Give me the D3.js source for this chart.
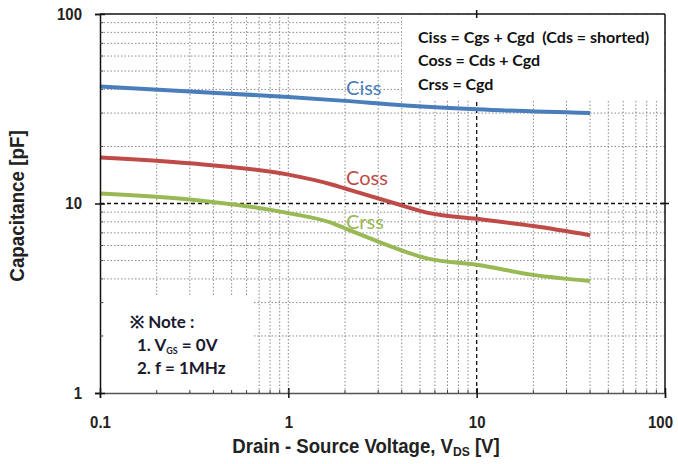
<!DOCTYPE html>
<html>
<head>
<meta charset="utf-8">
<script src="https://cdn.jsdelivr.net/npm/d3@7"></script>
<style>
  body { margin: 0; background: #fff; }
  svg { display: block; }
</style>
</head>
<body>
<div id="chart"></div>
<script>
// data
var cissV  = [0.1, 0.3, 1, 2, 4, 10, 40];
var cissPF = [41.5, 39, 36.5, 34.8, 33, 31.4, 30];

var cossV  = [0.1, 0.3, 1, 1.7, 2, 3.7, 5.6, 10, 20, 40];
var cossPF = [17.5, 16.3, 14.2, 12.6, 12, 10, 8.9, 8.3, 7.6, 6.8];

var crssV  = [0.1, 0.3, 1, 1.7, 2, 3, 5.6, 10, 20, 40];
var crssPF = [11.3, 10.5, 8.9, 7.9, 7.4, 6.3, 5.1, 4.75, 4.2, 3.9];

var xTicks = [0.1, 1, 10, 100];
var yTicks = [1, 10, 100];
var xMinor = [0.2, 0.3, 0.4, 0.5, 0.6, 0.7, 0.8, 0.9, 1, 2, 3, 4, 5, 6, 7, 8, 9, 20, 30, 40, 50, 60, 70, 80, 90];
var yMinor = [2, 3, 4, 5, 6, 7, 8, 9, 20, 30, 40, 50, 60, 70, 80, 90];

var seriesNames = ["Ciss", "Coss", "Crss"];
var seriesColors = ["#4a7ebb", "#be4b48", "#98b954"];

var W = 678, H = 464;
var margin = { top: 14, right: 13, bottom: 71, left: 100 };

var x = d3.scaleLog().domain([0.1, 100]).range([margin.left, W - margin.right]);
var y = d3.scaleLog().domain([1, 100]).range([H - margin.bottom, margin.top]);

var axisFont = "'Liberation Sans', Arial, sans-serif";
var boxFont = "Lato, 'Open Sans', sans-serif";
var squeeze = 0.88; // axis text in the original is a narrow face

var svg = d3.select("#chart").append("svg")
    .attr("width", W)
    .attr("height", H);

// minor grid
svg.append("g").selectAll("line")
    .data(xMinor)
    .enter().append("line")
    .attr("x1", d => x(d)).attr("x2", d => x(d))
    .attr("y1", y(1)).attr("y2", y(100))
    .attr("stroke", "#8a8a8a")
    .attr("stroke-width", 1)
    .attr("stroke-dasharray", "1.5,2");

svg.append("g").selectAll("line")
    .data(yMinor)
    .enter().append("line")
    .attr("x1", x(0.1)).attr("x2", x(100))
    .attr("y1", d => y(d)).attr("y2", d => y(d))
    .attr("stroke", "#8a8a8a")
    .attr("stroke-width", 1)
    .attr("stroke-dasharray", "1.5,2");

// major dashed lines at 10
svg.append("line")
    .attr("x1", x(10)).attr("x2", x(10))
    .attr("y1", y(1)).attr("y2", y(100))
    .attr("stroke", "#111").attr("stroke-width", 1.3)
    .attr("stroke-dasharray", "4,3");
svg.append("line")
    .attr("x1", x(0.1)).attr("x2", x(100))
    .attr("y1", y(10)).attr("y2", y(10))
    .attr("stroke", "#111").attr("stroke-width", 1.3)
    .attr("stroke-dasharray", "4,3");

// white boxes for the legend and the note
svg.append("rect")
    .attr("x", 402).attr("y", y(100) + 1)
    .attr("width", x(100) - 403).attr("height", 86)
    .attr("fill", "#fff");
svg.append("rect")
    .attr("x", x(0.1) + 4).attr("y", 296)
    .attr("width", 150).attr("height", y(1) - 297)
    .attr("fill", "#fff");

// curves
var line = d3.line()
    .x(d => x(d[0]))
    .y(d => y(d[1]))
    .curve(d3.curveMonotoneX);

var series = [
    d3.zip(cissV, cissPF),
    d3.zip(cossV, cossPF),
    d3.zip(crssV, crssPF)
];

svg.append("g").selectAll("path")
    .data(series)
    .enter().append("path")
    .attr("d", line)
    .attr("fill", "none")
    .attr("stroke", (d, i) => seriesColors[i])
    .attr("stroke-width", 4)
    .attr("stroke-linecap", "butt");

// curve labels
var labelPos = [[2, 88], [2, 178], [2, 222]];
svg.append("g").selectAll("text")
    .data(seriesNames)
    .enter().append("text")
    .attr("x", (d, i) => x(labelPos[i][0]) + 1)
    .attr("y", (d, i) => labelPos[i][1] + 7)
    .attr("fill", (d, i) => seriesColors[i])
    .style("font-family", boxFont)
    .style("font-size", "20px")
    .text(d => d);

// frame
svg.append("line")
    .attr("x1", x(0.1)).attr("x2", x(100))
    .attr("y1", y(100)).attr("y2", y(100))
    .attr("stroke", "#111").attr("stroke-width", 1.5);
svg.append("line")
    .attr("x1", x(100)).attr("x2", x(100))
    .attr("y1", y(100)).attr("y2", y(1))
    .attr("stroke", "#111").attr("stroke-width", 1.5);

// axes
var xAxis = svg.append("g")
    .attr("transform", "translate(0," + y(1) + ")")
    .call(d3.axisBottom(x).tickValues(xTicks).tickSize(5).tickFormat(d3.format("")));
xAxis.select(".domain").attr("stroke", "#555").attr("stroke-width", 1.5);
xAxis.selectAll(".tick line").attr("stroke", "#111").attr("stroke-width", 1.5).attr("y1", -5);
xAxis.selectAll(".tick text")
    .attr("dy", "0")
    .attr("y", 35)
    .attr("x", d => (d === 100 ? -5 : 0) / squeeze)
    .attr("transform", "scale(" + squeeze + ",1)")
    .attr("fill", "#222")
    .style("font-family", axisFont)
    .style("font-weight", "bold")
    .style("font-size", "17px");

// minor ticks on x axis
xAxis.append("g").selectAll("line")
    .data(xMinor)
    .enter().append("line")
    .attr("x1", d => x(d)).attr("x2", d => x(d))
    .attr("y1", 0).attr("y2", -3)
    .attr("stroke", "#444");

var yAxis = svg.append("g")
    .attr("transform", "translate(" + x(0.1) + ",0)")
    .call(d3.axisLeft(y).tickValues(yTicks).tickSize(5).tickFormat(d3.format("")));
yAxis.select(".domain").attr("stroke", "#111").attr("stroke-width", 1.5);
yAxis.selectAll(".tick line").attr("stroke", "#111").attr("stroke-width", 1.5).attr("x1", 5);
yAxis.selectAll(".tick text")
    .attr("x", -18 / squeeze)
    .attr("transform", "scale(" + squeeze + ",1)")
    .attr("fill", "#222")
    .style("font-family", axisFont)
    .style("font-weight", "bold")
    .style("font-size", "17px");

yAxis.append("g").selectAll("line")
    .data(yMinor)
    .enter().append("line")
    .attr("x1", 0).attr("x2", 3)
    .attr("y1", d => y(d)).attr("y2", d => y(d))
    .attr("stroke", "#444");

// small ticks on top / right frame at 10
svg.append("line")
    .attr("x1", x(10)).attr("x2", x(10))
    .attr("y1", y(100) - 4).attr("y2", y(100) + 4)
    .attr("stroke", "#111").attr("stroke-width", 1.5);
svg.append("line")
    .attr("x1", x(100) - 4).attr("x2", x(100) + 4)
    .attr("y1", y(10)).attr("y2", y(10))
    .attr("stroke", "#111").attr("stroke-width", 1.5);

// axis titles
var xTitle = svg.append("text")
    .attr("transform", "translate(366,453) scale(0.93,1)")
    .attr("text-anchor", "middle")
    .attr("fill", "#222")
    .style("font-family", axisFont)
    .style("font-weight", "bold")
    .style("font-size", "20px");
xTitle.append("tspan").text("Drain - Source Voltage, V");
xTitle.append("tspan").attr("dy", 3).style("font-size", "13px").text("DS");
xTitle.append("tspan").attr("dy", -3).text(" [V]");

svg.append("text")
    .attr("transform", "translate(24,206) rotate(-90) scale(0.94,1)")
    .attr("text-anchor", "middle")
    .attr("fill", "#222")
    .style("font-family", axisFont)
    .style("font-weight", "bold")
    .style("font-size", "20px")
    .text("Capacitance [pF]");

// legend equations
var legendLines = ["Ciss = Cgs + Cgd  (Cds = shorted)", "Coss = Cds + Cgd", "Crss = Cgd"];
var legendY = [43, 66, 90];
svg.append("g").selectAll("text")
    .data(legendLines)
    .enter().append("text")
    .attr("x", 418)
    .attr("y", (d, i) => legendY[i])
    .attr("fill", "#111")
    .style("font-family", boxFont)
    .style("font-weight", "bold")
    .style("font-size", "16px")
    .style("white-space", "pre")
    .text(d => d);

// note box text
var note = svg.append("g")
    .attr("fill", "#1a1a2e")
    .style("font-family", boxFont)
    .style("font-weight", "bold")
    .style("font-size", "17px");
note.append("text").attr("x", 130).attr("y", 328).text("※ Note :");
var n1 = note.append("text").attr("x", 137).attr("y", 351);
n1.append("tspan").text("1. V");
n1.append("tspan").attr("dy", 3).style("font-size", "9px").text("GS");
n1.append("tspan").attr("dy", -3).text(" = 0V");
note.append("text").attr("x", 137).attr("y", 374).text("2. f = 1MHz");
</script>
</body>
</html>
